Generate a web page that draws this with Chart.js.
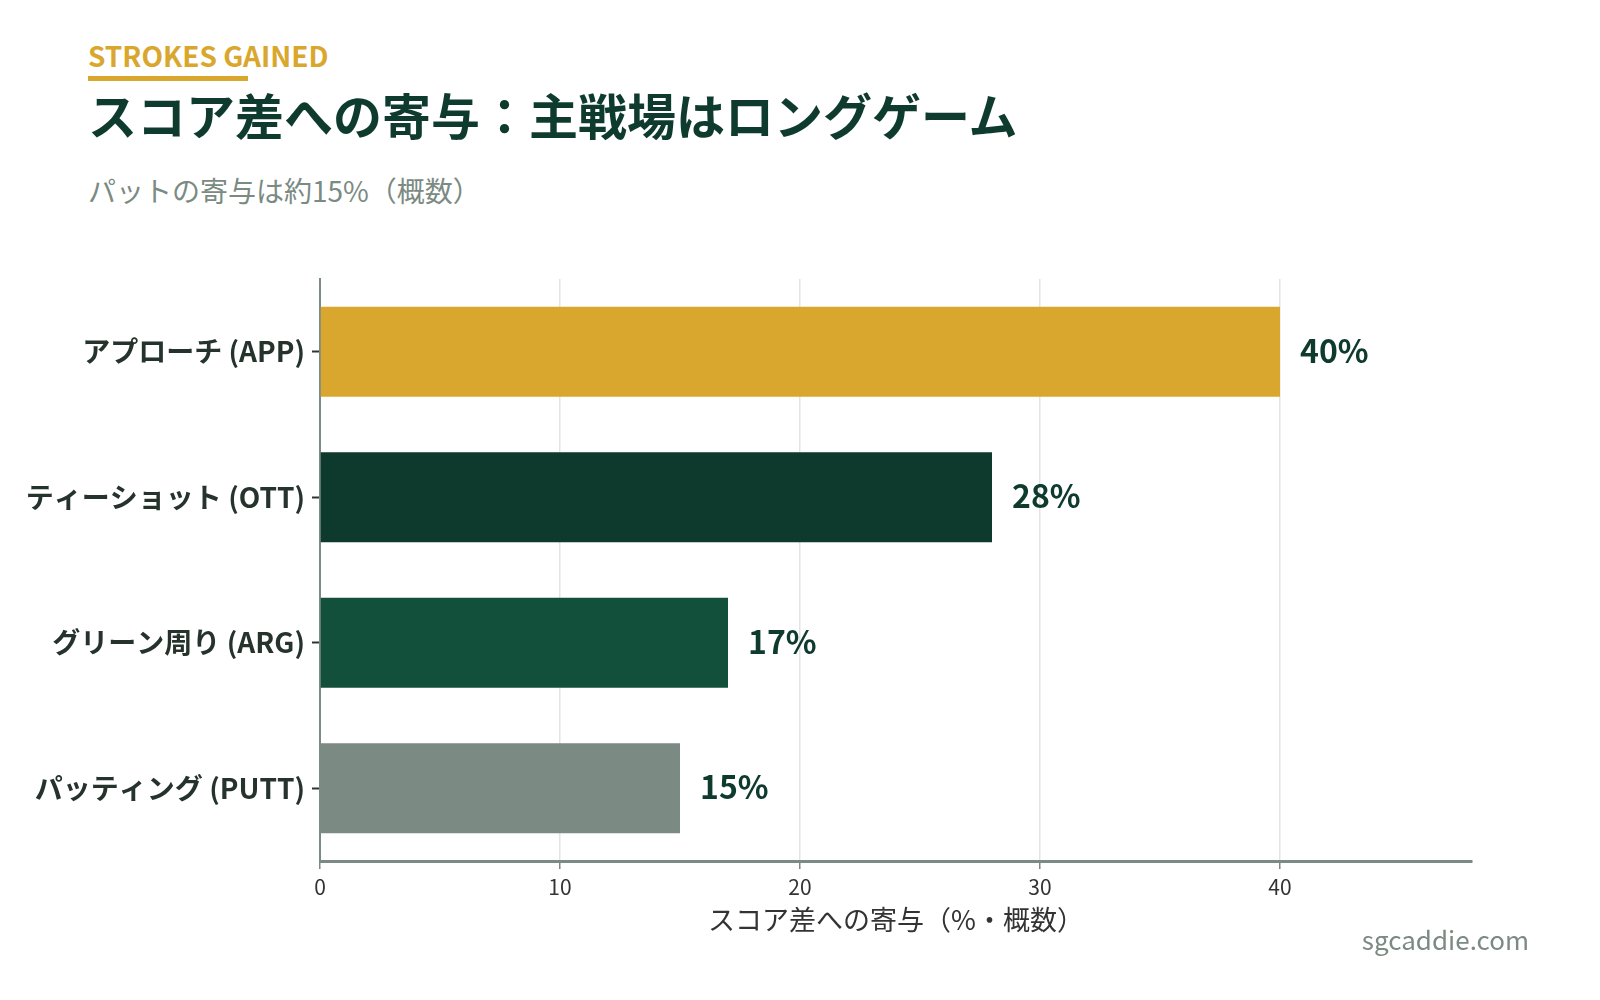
<!DOCTYPE html>
<html lang="ja">
<head>
<meta charset="utf-8">
<script src="https://cdn.jsdelivr.net/npm/chart.js@4.4.1/dist/chart.umd.min.js"></script>
<style>
  html, body { margin: 0; padding: 0; background: #fff; }
  body { width: 1600px; height: 1000px; position: relative; overflow: hidden; font-family: "Noto Sans CJK JP", "Noto Sans", sans-serif; }
  #kicker { position: absolute; left: 88px; top: 35px; font-size: 28px; font-weight: 700; color: #d9a72e; line-height: 40px; }
  #kicker-bar { position: absolute; left: 88px; top: 76px; width: 160px; height: 5px; background: #d9a72e; }
  #titulo { position: absolute; left: 88px; top: 83px; font-size: 49px; font-weight: 700; color: #0e3b2e; line-height: 62px; }
  #subtitulo { position: absolute; left: 88px; top: 172px; font-size: 28px; color: #7b8a82; line-height: 36px; }
  #marca { position: absolute; right: 71px; top: 921px; font-size: 26px; color: #7b8a82; line-height: 36px; }
  #area { position: absolute; left: 0; top: 0; width: 1600px; height: 1000px; }
</style>
</head>
<body>
<div id="kicker">STROKES GAINED</div>
<div id="kicker-bar"></div>
<div id="titulo">スコア差への寄与：主戦場はロングゲーム</div>
<div id="subtitulo">パットの寄与は約15%（概数）</div>
<div id="area"><canvas id="grafico" width="1600" height="1000"></canvas></div>
<div id="marca">sgcaddie.com</div>
<script>
const categorias = ["アプローチ (APP)", "ティーショット (OTT)", "グリーン周り (ARG)", "パッティング (PUTT)"];
const valores = [40, 28, 17, 15];
const coresBarras = ["#d9a72e", "#0e3a2e", "#13503b", "#7b8a82"];
const tituloEixoX = "スコア差への寄与（%・概数）";
const FONTE = "'Noto Sans CJK JP', 'Noto Sans', sans-serif";

// rótulos de valor à direita de cada barra
const rotulosValores = {
  id: "rotulosValores",
  afterDatasetsDraw(chart) {
    const ctx = chart.ctx;
    const meta = chart.getDatasetMeta(0);
    ctx.save();
    ctx.font = `700 32px ${FONTE}`;
    ctx.fillStyle = "#0e3b2e";
    ctx.textAlign = "left";
    ctx.textBaseline = "middle";
    meta.data.forEach((barra, i) => {
      ctx.fillText(`${valores[i]}%`, barra.x + 20, barra.y - 1);
    });
    ctx.restore();
  },
};

const ctx = document.getElementById("grafico").getContext("2d");
new Chart(ctx, {
  type: "bar",
  data: {
    labels: categorias,
    datasets: [{
      data: valores,
      backgroundColor: coresBarras,
      borderWidth: 0,
      barPercentage: 0.62,
      categoryPercentage: 1,
    }],
  },
  options: {
    indexAxis: "y",
    responsive: false,
    animation: false,
    layout: { padding: { top: 279, bottom: 60, left: 0, right: 128 } },
    plugins: {
      legend: { display: false },
      tooltip: { enabled: false },
    },
    scales: {
      x: {
        min: 0,
        max: 48,
        ticks: {
          stepSize: 10,
          includeBounds: false,
          color: "#333",
          padding: 5,
          font: { family: FONTE, size: 21 },
        },
        grid: { color: "#e4e4e4", lineWidth: 1.5, tickLength: 8, tickColor: "#7b8a82" },
        border: { color: "#7b8a82", width: 3 },
        title: {
          display: true,
          text: tituloEixoX,
          color: "#333",
          font: { family: FONTE, size: 27 },
        },
        afterFit: (escala) => { escala.height = 79; },
      },
      y: {
        ticks: {
          color: "#26332d",
          padding: 7,
          font: { family: FONTE, size: 28, weight: "700" },
        },
        grid: { drawOnChartArea: false, offset: false, tickLength: 8, tickColor: "#333", tickWidth: 2 },
        border: { color: "#7b8a82", width: 2 },
        afterFit: (escala) => { escala.width = 320; },
      },
    },
  },
  plugins: [rotulosValores],
});
</script>
</body>
</html>
